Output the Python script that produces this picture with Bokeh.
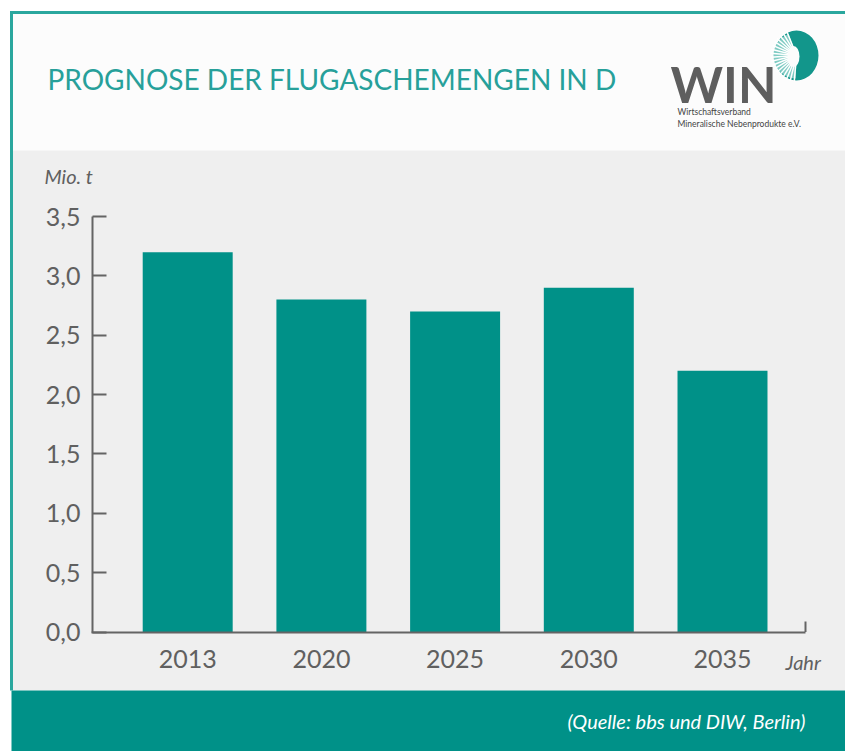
import math
from bokeh.plotting import figure
from bokeh.models import (Range1d, LinearAxis, FixedTicker, CustomJSTickFormatter, Label)
from bokeh.embed import file_html
from bokeh.resources import INLINE

# ---- data ----
years = ["2013", "2020", "2025", "2030", "2035"]
values = [3.2, 2.8, 2.7, 2.9, 2.2]
y_ticks = [0.0, 0.5, 1.0, 1.5, 2.0, 2.5, 3.0, 3.5]
title_text = "PROGNOSE DER FLUGASCHEMENGEN IN D"
unit_text = "Mio. t"
xunit_text = "Jahr"
source_text = "(Quelle: bbs und DIW, Berlin)"

TEAL = "#009188"
TITLE_TEAL = "#27a09a"
GRAY_BG = "#efefef"
TXT = "#606060"
AX = "#646464"
FONT = "Lato"

W, H = 845, 751
# pixel <-> data helpers (layout of the canvas)
X0, DX = 187.2, 133.7
Y0, DY = 631.5, 118.71
def X(px):
    return (px - X0) / DX
def Y(py):
    return (Y0 - py) / DY

p = figure(width=W, height=H, output_backend="svg", toolbar_location=None,
           x_axis_type=None, y_axis_type=None,
           x_range=Range1d(X(0), X(W)), y_range=Range1d(Y(H), Y(0)),
           min_border=0, min_border_left=0, min_border_right=0,
           min_border_top=0, min_border_bottom=0)
p.outline_line_color = None
p.background_fill_color = "white"
p.border_fill_color = "white"

# ---- panel backgrounds ----
p.quad(left=[X(11)], right=[X(W + 5)], top=[Y(12)], bottom=[Y(150)],
       fill_color="#fcfcfc", line_color=None)
p.quad(left=[X(11)], right=[X(W + 5)], top=[Y(150)], bottom=[Y(690)],
       fill_color=GRAY_BG, line_color=None)
p.quad(left=[X(11)], right=[X(W + 5)], top=[Y(690)], bottom=[Y(H + 5)],
       fill_color=TEAL, line_color=None)
# frame border (left + top)
p.quad(left=[X(9.5)], right=[X(12.5)], top=[Y(10.5)], bottom=[Y(690)],
       fill_color="#2aa79e", line_color=None)
p.quad(left=[X(9.5)], right=[X(W + 5)], top=[Y(10.5)], bottom=[Y(13.5)],
       fill_color="#2aa79e", line_color=None)

# ---- bars ----
xs = list(range(len(years)))
p.vbar(x=xs, top=values, bottom=0, width=0.673, fill_color=TEAL, line_color=None)

# ---- axes ----
yaxis = LinearAxis(fixed_location=X(92), bounds=(y_ticks[0], y_ticks[-1]),
                   ticker=FixedTicker(ticks=y_ticks),
                   formatter=CustomJSTickFormatter(code="return tick.toFixed(1).replace('.', ',');"))
yaxis.axis_line_color = AX
yaxis.axis_line_width = 2
yaxis.major_tick_line_color = AX
yaxis.major_tick_line_width = 2
yaxis.major_tick_in = 14
yaxis.major_tick_out = 0
yaxis.minor_tick_line_color = None
yaxis.major_label_standoff = 12
yaxis.major_label_text_font = FONT
yaxis.major_label_text_font_size = "25px"
yaxis.major_label_text_color = TXT
p.add_layout(yaxis, "left")

xaxis = LinearAxis(fixed_location=0, bounds=(X(91), X(805)),
                   ticker=FixedTicker(ticks=xs),
                   formatter=CustomJSTickFormatter(args=dict(labels=years),
                                                   code="return labels[Math.round(tick)] || '';"))
xaxis.axis_line_color = AX
xaxis.axis_line_width = 2
xaxis.major_tick_line_color = None
xaxis.major_tick_in = 0
xaxis.major_tick_out = 0
xaxis.minor_tick_line_color = None
xaxis.major_label_standoff = 18
xaxis.major_label_text_font = FONT
xaxis.major_label_text_font_size = "25px"
xaxis.major_label_text_color = TXT
p.add_layout(xaxis, "below")

# small end tick of the x axis
p.segment(x0=[X(805)], y0=[0], x1=[X(805)], y1=[Y(621)], line_color=AX, line_width=2)

# ---- texts ----
p.add_layout(Label(x=X(47), y=Y(78.5), text=title_text, text_font=FONT,
                   text_font_size="28px", text_color=TITLE_TEAL,
                   text_align="left", text_baseline="alphabetic"))
p.add_layout(Label(x=X(44), y=Y(175), text=unit_text, text_font=FONT,
                   text_font_style="italic", text_font_size="20px", text_color=TXT,
                   text_align="left", text_baseline="alphabetic"))
p.add_layout(Label(x=X(785), y=Y(661), text=xunit_text, text_font=FONT,
                   text_font_style="italic", text_font_size="20px", text_color=TXT,
                   text_align="left", text_baseline="alphabetic"))
p.add_layout(Label(x=X(805), y=Y(720), text=source_text, text_font=FONT,
                   text_font_style="italic", text_font_size="20px", text_color="white",
                   text_align="right", text_baseline="alphabetic"))

# ---- logo ----
p.add_layout(Label(x=X(670), y=Y(83), text="WIN", text_font=FONT,
                   text_font_size="50px", text_font_style="bold", text_color="#5e5e5e",
                   text_align="left", text_baseline="alphabetic"))
p.add_layout(Label(x=X(677), y=Y(111.5), text="Wirtschaftsverband", text_font=FONT,
                   text_font_size="8.5px", text_color="#444444",
                   text_align="left", text_baseline="alphabetic"))
p.add_layout(Label(x=X(677), y=Y(123.5), text="Mineralische Nebenprodukte e.V.", text_font=FONT,
                   text_font_size="8.5px", text_color="#444444",
                   text_align="left", text_baseline="alphabetic"))
cx, cy = X(796), Y(55)
p.ellipse(x=[cx], y=[cy], width=44, height=50, width_units="screen", height_units="screen",
          fill_color="#12968b", line_color=None)
p.annular_wedge(x=[cx], y=[cy], inner_radius=6, outer_radius=23,
                inner_radius_units="screen", outer_radius_units="screen",
                start_angle=math.radians(110), end_angle=math.radians(268),
                fill_color="#7fcbc3", line_color=None)
ray_angles = [math.radians(a) for a in range(112, 268, 9)]
p.ray(x=[cx] * len(ray_angles), y=[cy] * len(ray_angles), angle=ray_angles,
      length=26, length_units="screen", line_color="white", line_width=1.5)
p.ellipse(x=[X(793)], y=[Y(56)], width=12, height=21, width_units="screen", height_units="screen",
          fill_color="#fcfcfc", line_color=None)

open("out.html", "w").write(file_html(p, INLINE))
